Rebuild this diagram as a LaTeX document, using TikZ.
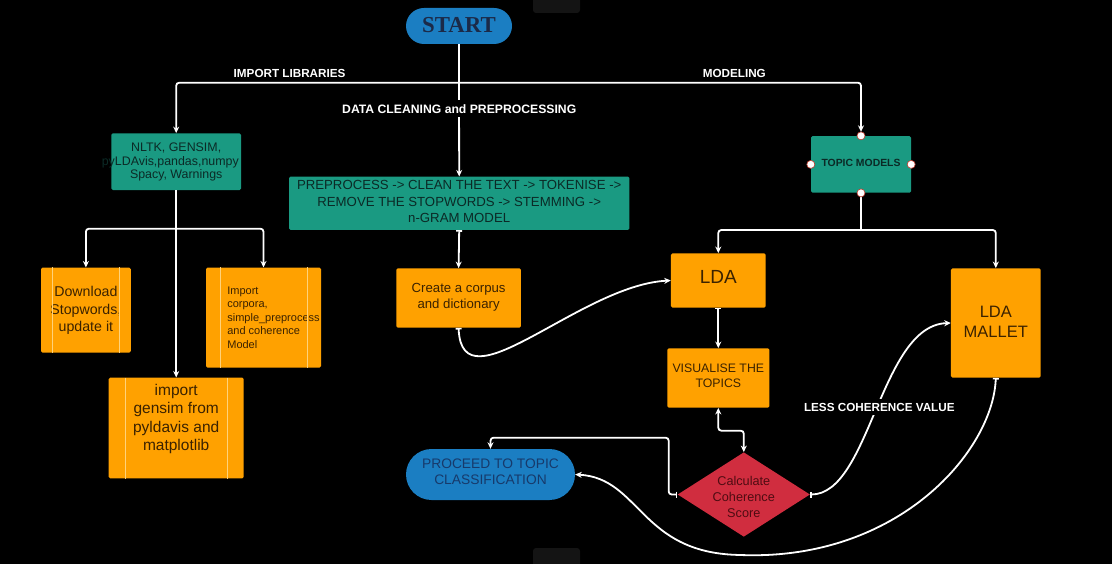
\documentclass[tikz,border=0pt]{standalone}
\usepackage{fontspec}
\setmainfont{Liberation Sans}
\newfontfamily\serifstart{Liberation Serif}
\usetikzlibrary{arrows.meta,shapes.geometric}
\definecolor{tealc}{HTML}{1A9A82}
\definecolor{tealtext}{HTML}{0B2A26}
\definecolor{orangec}{HTML}{FFA100}
\definecolor{otext}{HTML}{3B2200}
\definecolor{innerc}{HTML}{FFD27A}
\definecolor{bluec}{HTML}{1B7EC2}
\definecolor{bluetext}{HTML}{173A6B}
\definecolor{starttext}{HTML}{1B2A48}
\definecolor{redc}{HTML}{D02D3F}
\definecolor{redtext}{HTML}{4F0C12}
\definecolor{dotred}{HTML}{C0392B}
\definecolor{ghost}{HTML}{141414}
\newcommand\boxtxt[3]{\raisebox{#1}[0pt][0pt]{\begin{tabular}{@{}#2@{}}#3\end{tabular}}}
\begin{document}
\begin{tikzpicture}[x=1pt,y=-1pt,
 conn/.style={draw=white, line width=1.8pt, rounded corners=3pt},
 arr/.style={-{Stealth[length=6.5pt,width=6pt]}},
 barr/.style={{Bar[width=6pt,line width=1.6pt]}-{Stealth[length=6.5pt,width=6pt]}},
 dbl/.style={{Stealth[length=6.5pt,width=6pt]}-{Stealth[length=6.5pt,width=6pt]}},
 tbox/.style={fill=tealc, rounded corners=1.5pt, inner sep=0pt, text=tealtext},
 obox/.style={fill=orangec, rounded corners=1.5pt, inner sep=0pt, text=otext},
 pill/.style={fill=bluec, inner sep=0pt},
 lbl/.style={text=white, fill=black, font=\bfseries\fontsize{11.7}{13}\selectfont, inner xsep=1pt, inner ysep=4pt},
 vline/.style={draw=innerc, line width=0.6pt},
 dot/.style={circle, fill=white, draw=dotred, line width=0.6pt, minimum size=8pt, inner sep=0pt},
]
\useasboundingbox (0,0) rectangle (1112,564);
\fill[black] (0,0) rectangle (1112,564);
\fill[ghost, rounded corners=3pt] (533,-5) rectangle (580,13);
\fill[ghost, rounded corners=3pt] (533,548) rectangle (580,569);

% nodes
\node[pill, rounded corners=18pt, minimum width=106pt, minimum height=36pt, text=starttext,
  font=\serifstart\bfseries\fontsize{22.8}{26}\selectfont] (start) at (459,26) {\boxtxt{-6.9pt}{c}{START}};
\node[tbox, minimum width=129.6pt, minimum height=56.7pt, font=\fontsize{12.4}{13.8}\selectfont]
  (nltk) at (176.2,161.7) {\boxtxt{-3.6pt}{c}{NLTK, GENSIM,\\\hspace*{-11.8pt}pyLDAvis,pandas,numpy\\Spacy, Warnings}};
\node[tbox, minimum width=340.4pt, minimum height=53.3pt, font=\fontsize{13.2}{16.2}\selectfont]
  (prep) at (459.2,203.3) {\boxtxt{-2.6pt}{c}{PREPROCESS -> CLEAN THE TEXT -> TOKENISE ->\\REMOVE THE STOPWORDS -> STEMMING ->\\n-GRAM MODEL}};
\node[obox, minimum width=89.7pt, minimum height=85pt, font=\fontsize{14.2}{17.2}\selectfont]
  (dl) at (85.9,310.2) {\boxtxt{-4.1pt}{c}{Download\\Stopwords,\\update it}};
\node[obox, minimum width=115pt, minimum height=100pt, font=\fontsize{11}{13.6}\selectfont]
  (imp) at (263.5,317.7) {\hspace*{20pt}\boxtxt{-3.7pt}{l}{Import\\corpora,\\simple\_preprocess\\and coherence\\Model}};
\node[obox, minimum width=135pt, minimum height=100.6pt, font=\fontsize{15.5}{18.6}\selectfont]
  (gen) at (176.2,428) {\boxtxt{5.1pt}{c}{import\\gensim from\\pyldavis and\\matplotlib}};
\node[obox, minimum width=124.4pt, minimum height=59.4pt, font=\fontsize{13.2}{16}\selectfont]
  (create) at (458.6,298) {\boxtxt{-2.2pt}{c}{Create a corpus\\and dictionary}};
\node[tbox, minimum width=100pt, minimum height=56.7pt, font=\bfseries\fontsize{10.4}{12.5}\selectfont]
  (topic) at (861,164.4) {\boxtxt{-2.4pt}{c}{TOPIC MODELS}};
\node[obox, minimum width=94.7pt, minimum height=54.4pt, font=\fontsize{19}{22}\selectfont]
  (lda) at (718.3,280.5) {\boxtxt{-3.2pt}{c}{LDA}};
\node[obox, minimum width=102pt, minimum height=59.4pt, font=\fontsize{12.3}{15}\selectfont]
  (vis) at (718.3,378) {\boxtxt{-2.4pt}{c}{VISUALISE THE\\TOPICS}};
\node[diamond, fill=redc, inner sep=0pt, aspect=1.567, minimum width=132.3pt, minimum height=84.4pt,
  text=redtext, font=\fontsize{12.7}{15.7}\selectfont]
  (dia) at (743.8,494.5) {\boxtxt{-6.7pt}{c}{Calculate\\Coherence\\Score}};
\node[pill, rounded corners=25.5pt, minimum width=169pt, minimum height=51pt, text=bluetext,
  font=\fontsize{13.8}{16.7}\selectfont]
  (proc) at (490.5,474.5) {\boxtxt{-2.3pt}{c}{PROCEED TO TOPIC\\CLASSIFICATION}};
\node[obox, minimum width=89.7pt, minimum height=109.4pt, font=\fontsize{16.5}{19.3}\selectfont]
  (mal) at (995.8,323) {\boxtxt{-5.1pt}{c}{LDA\\MALLET}};

% inner lines of orange process boxes
\draw[vline] ([xshift=11.7pt]dl.north west) -- ([xshift=11.7pt]dl.south west);
\draw[vline] ([xshift=-11.4pt]dl.north east) -- ([xshift=-11.4pt]dl.south east);
\draw[vline] ([xshift=14.7pt]imp.north west) -- ([xshift=14.7pt]imp.south west);
\draw[vline] ([xshift=-14.3pt]imp.north east) -- ([xshift=-14.3pt]imp.south east);
\draw[vline] ([xshift=17pt]gen.north west) -- ([xshift=17pt]gen.south west);
\draw[vline] ([xshift=-17pt]gen.north east) -- ([xshift=-17pt]gen.south east);

% junctions
\coordinate (h1) at (459,82.7);
\coordinate (h2) at (176.2,228.7);
\coordinate (h3) at (861,230);
\coordinate (vd) at (718.3,430.7);
\coordinate (dp) at (668.7,437.7);
\coordinate (low) at (740,555);

% connectors
\draw[conn] (start.south) -- (h1);
\draw[conn,arr] (h1) -- (prep.north);
\draw[conn,arr] (h1) -| (nltk.north);
\draw[conn,arr,shorten >=4pt] (h1) -| (topic.north);
\draw[conn,arr] (nltk.south) -- (gen.north);
\draw[conn,arr] (h2) -| (dl.north);
\draw[conn,arr] (h2) -| (imp.north);
\draw[conn,barr] (prep.south) -- (create.north);
\draw[conn,shorten <=4pt] (topic.south) -- (h3);
\draw[conn,arr] (h3) -| (lda.north);
\draw[conn,arr] (h3) -| (mal.north);
\draw[conn,barr] (lda.south) -- (vis.north);
\draw[conn,dbl] (vis.south) -- (vd) -| (dia.north);
\draw[conn,barr] (dia.west) -| (dp) -| (proc.north);
\draw[conn,barr] (create.south) .. controls (462,410) and (580,285) .. (lda.west);
\draw[conn,barr] (dia.east) .. controls (870,494.5) and (880,325) .. (mal.west);
\draw[conn,barr] (mal.south) .. controls (993,450) and (900,560) .. (low) .. controls (640,552) and (640,478) .. (proc.east);

% labels (drawn over the connectors)
\node[lbl] (lblimp) at (289.6,73.3) {IMPORT LIBRARIES};
\node[lbl, anchor=west, font=\bfseries\fontsize{12.2}{14}\selectfont] (lblclean) at (341,108.7) {DATA CLEANING and PREPROCESSING};
\node[lbl] (lblmod) at (734.3,73) {MODELING};
\node[lbl] (lblless) at (879.3,407) {LESS COHERENCE VALUE};

% connection dots of TOPIC MODELS
\node[dot] (dn) at (topic.north) {};
\node[dot] (dw) at (topic.west) {};
\node[dot] (de) at (topic.east) {};
\node[dot] (ds) at (topic.south) {};
\end{tikzpicture}
\end{document}
